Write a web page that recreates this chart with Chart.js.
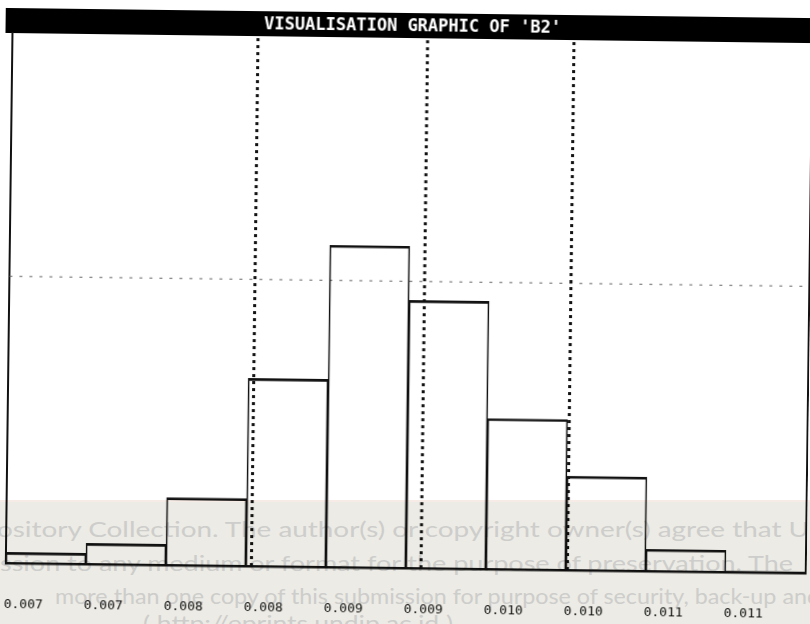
<!DOCTYPE html>
<html>
<head>
<meta charset="utf-8">
<script src="https://cdn.jsdelivr.net/npm/chart.js@4.4.1/dist/chart.umd.min.js"></script>
<style>
  html, body { margin: 0; padding: 0; background: #fff; overflow: hidden; }
  #wrap { position: relative; width: 810px; height: 624px; overflow: hidden; background: #fff; }
  #c { position: absolute; left: 0; top: 0; transform: rotate(0.72deg); transform-origin: 405px 312px; }
  #notice { position: absolute; left: 0; top: 0; mix-blend-mode: multiply; }
</style>
</head>
<body>
<div id="wrap">
  <canvas id="c" width="810" height="624"></canvas>
  <svg id="notice" width="810" height="624" xmlns="http://www.w3.org/2000/svg"></svg>
</div>
<script>
// Histogram of B2: one bar per class, class labels under each bar
const binLabels = ['0.007', '0.007', '0.008', '0.008', '0.009', '0.009', '0.010', '0.010', '0.011', '0.011'];
const frequencies = [2.0, 3.9, 12.7, 35.4, 60.7, 50.5, 28.4, 17.7, 4.1, 0.2];
// dotted marker lines, positions in class units (0 = left edge of first class)
const markerPositions = [3.07, 5.19, 7.02];
// dotted horizontal reference level
const referenceLevel = 54.1;
const titleText = "VISUALISATION GRAPHIC OF 'B2'";

// repository notice printed across the lower part of the sheet
const noticeLines = [
  { text: 'ository Collection. The author(s) or copyright owner(s) agree that U', x: -3, y: 537, len: 812 },
  { text: 'ssion to any medium or format for the purpose of preservation. The', x: 0, y: 571, len: 793 },
  { text: 'more than one copy of this submission for purpose of security, back-up and', x: 55, y: 604, len: 765 },
  { text: '( http://eprints.undip.ac.id )', x: 143, y: 631, len: 310 }
];

const svgNS = 'http://www.w3.org/2000/svg';
const notice = document.getElementById('notice');
const band = document.createElementNS(svgNS, 'rect');
band.setAttribute('x', 0); band.setAttribute('y', 501);
band.setAttribute('width', 810); band.setAttribute('height', 123);
band.setAttribute('fill', '#ecebe5');
notice.appendChild(band);
const edge = document.createElementNS(svgNS, 'rect');
edge.setAttribute('x', 0); edge.setAttribute('y', 500);
edge.setAttribute('width', 810); edge.setAttribute('height', 2);
edge.setAttribute('fill', '#f7ebe6');
notice.appendChild(edge);
noticeLines.forEach(l => {
  const t = document.createElementNS(svgNS, 'text');
  t.setAttribute('x', l.x);
  t.setAttribute('y', l.y);
  t.setAttribute('textLength', l.len);
  t.setAttribute('lengthAdjust', 'spacingAndGlyphs');
  t.setAttribute('font-family', 'Lato, "Open Sans", sans-serif');
  t.setAttribute('font-size', '22');
  t.setAttribute('fill', '#cdcdcb');
  t.textContent = l.text;
  notice.appendChild(t);
});

// black heading strip behind the title
const headingStrip = {
  id: 'headingStrip',
  beforeDraw(chart) {
    const ctx = chart.ctx;
    ctx.save();
    ctx.fillStyle = '#000';
    ctx.fillRect(2, 13, 808, 25);
    ctx.restore();
  }
};

const markerSets = markerPositions.map(v => ({
  type: 'line',
  data: [{ x: v, y: 0 }, { x: v, y: 100 }],
  borderColor: '#111',
  borderWidth: 3,
  borderDash: [3, 4],
  borderCapStyle: 'butt',
  pointRadius: 0,
  fill: false,
  order: 2
}));

const referenceSet = {
  type: 'line',
  data: [{ x: 0, y: referenceLevel }, { x: 10, y: referenceLevel }],
  borderColor: '#666',
  borderWidth: 1,
  borderDash: [3, 7],
  pointRadius: 0,
  fill: false,
  order: 3
};

const noSidePadding = axis => {
  axis.paddingLeft = 0;
  axis.paddingRight = 0;
  axis.paddingTop = 0;
  axis.paddingBottom = 0;
};

new Chart(document.getElementById('c'), {
  type: 'bar',
  data: {
    datasets: [
      {
        type: 'bar',
        data: frequencies.map((f, i) => ({ x: i + 0.5, y: f })),
        backgroundColor: 'rgba(0,0,0,0)',
        borderColor: '#111',
        borderWidth: { top: 2, left: 1, right: 1, bottom: 0 },
        borderSkipped: 'start',
        barPercentage: 1,
        categoryPercentage: 1,
        order: 1
      },
      ...markerSets,
      referenceSet
    ]
  },
  plugins: [headingStrip],
  options: {
    responsive: false,
    animation: false,
    devicePixelRatio: 1,
    layout: { padding: { left: 9, right: 1, top: 0, bottom: 0 } },
    plugins: {
      legend: { display: false },
      tooltip: { enabled: false },
      title: {
        display: true,
        text: titleText,
        color: '#fff',
        font: { family: '"DejaVu Sans Mono", monospace', size: 17, weight: 'bold' },
        padding: { top: 16.5, bottom: 1.1 }
      }
    },
    scales: {
      x: {
        type: 'linear',
        min: 0,
        max: 10,
        offset: false,
        afterBuildTicks: axis => { axis.ticks = binLabels.map((_, i) => ({ value: i })); },
        afterFit: axis => { axis.height = 56; noSidePadding(axis); },
        ticks: {
          autoSkip: false,
          maxRotation: 0,
          labelOffset: 18,
          padding: 34,
          color: '#111',
          font: { family: '"DejaVu Sans Mono", monospace', size: 13 },
          callback: (v, i) => binLabels[i]
        },
        grid: { display: false, drawTicks: false },
        border: { display: true, color: '#111', width: 2.5 }
      },
      y: {
        type: 'linear',
        position: 'left',
        min: 0,
        max: 100,
        afterFit: axis => { axis.width = 0; noSidePadding(axis); },
        ticks: { display: false },
        grid: { display: false, drawTicks: false },
        border: { display: true, color: '#111', width: 2 }
      },
      y2: {
        type: 'linear',
        position: 'right',
        min: 0,
        max: 100,
        afterFit: axis => { axis.width = 0; noSidePadding(axis); },
        ticks: { display: false },
        grid: { display: false, drawTicks: false },
        border: { display: true, color: '#111', width: 2 }
      }
    }
  }
});
</script>
</body>
</html>
